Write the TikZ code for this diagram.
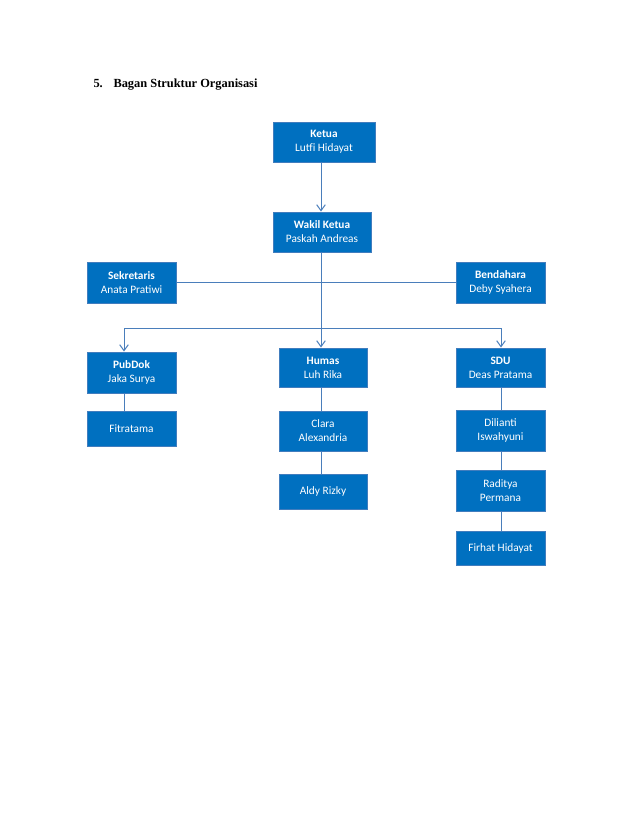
\documentclass[tikz,border=0pt]{standalone}
\usepackage{fontspec}
\setmainfont{Carlito}
\newfontfamily\titlefont{Liberation Serif}
\usetikzlibrary{arrows.meta}

\definecolor{boxfill}{RGB}{0,112,192}
\definecolor{boxedge}{RGB}{65,125,190}
\definecolor{linkblue}{RGB}{74,126,187}

\tikzset{every picture/.style={line width=0.75pt}}
\tikzset{
  orgbox/.style={draw=boxedge, fill=boxfill, text=white, align=center, inner sep=0.75pt,
    font=\fontsize{8.5}{10.5}\selectfont},
  link/.style={draw=linkblue, line width=0.75pt},
  linkarrow/.style={link, -{Straight Barb[length=4.5pt,width=6.5pt]}}
}

\begin{document}
\begin{tikzpicture}[x=0.75pt,y=0.75pt,yscale=-1,xscale=1]
%set diagram page, 638 x 826
\useasboundingbox (0,0) rectangle (638,826);
\fill[white] (0,0) rectangle (638,826);

% Text Node
\node (titlenum) [anchor=base west, inner sep=0pt, font=\titlefont\bfseries\fontsize{9.3}{11}\selectfont] at (93,87) {5.};
% Text Node
\node (title) [anchor=base west, inner sep=0pt, font=\titlefont\bfseries\fontsize{9.3}{11}\selectfont] at (113,87) {Bagan Struktur Organisasi};

%Shape: Rectangle
\node (ketua) [orgbox, minimum width=76.5pt, minimum height=30pt] at (324,142) {\textbf{Ketua}\\Lutfi Hidayat};
%Shape: Rectangle
\node (wakil) [orgbox, minimum width=73.5pt, minimum height=30pt] at (322,232) {\textbf{Wakil Ketua}\\Paskah Andreas};
%Shape: Rectangle
\node (sekretaris) [orgbox, minimum width=66.75pt, minimum height=30.75pt] at (131.5,282.5) {\textbf{Sekretaris}\\Anata Pratiwi};
%Shape: Rectangle
\node (bendahara) [orgbox, minimum width=66.75pt, minimum height=30.75pt] at (500.5,282.5) {\textbf{Bendahara}\\Deby Syahera};

%Shape: Rectangle
\node (pubdok) [orgbox, minimum width=66.75pt, minimum height=30.75pt] at (131.5,372.5) {\textbf{PubDok}\\Jaka Surya};
%Shape: Rectangle
\node (fitratama) [orgbox, minimum width=66.75pt, minimum height=26.25pt] at (131.5,428.5) {Fitratama};

%Shape: Rectangle
\node (humas) [orgbox, minimum width=66pt, minimum height=29.25pt] at (323,367.5) {\textbf{Humas}\\Luh Rika};
%Shape: Rectangle
\node (clara) [orgbox, minimum width=66pt, minimum height=30pt] at (323,431) {Clara\\Alexandria};
%Shape: Rectangle
\node (aldy) [orgbox, minimum width=66pt, minimum height=26.25pt] at (323,491.5) {Aldy Rizky};

%Shape: Rectangle
\node (sdu) [orgbox, minimum width=66.75pt, minimum height=29.25pt] at (500.5,367.5) {\textbf{SDU}\\Deas Pratama};
%Shape: Rectangle
\node (dilianti) [orgbox, minimum width=66.75pt, minimum height=30.75pt] at (500.5,430.5) {Dilianti\\Iswahyuni};
%Shape: Rectangle
\node (raditya) [orgbox, minimum width=66.75pt, minimum height=30.75pt] at (500.5,490.5) {Raditya\\Permana};
%Shape: Rectangle
\node (firhat) [orgbox, minimum width=66.75pt, minimum height=25.5pt] at (500.5,548) {Firhat Hidayat};

% branch points
\coordinate (spine) at (321,328);
\coordinate (branchleft) at (124,328);
\coordinate (branchright) at (501,328);

%Straight Lines
\draw [linkarrow] (ketua.south -| spine) -- (wakil.north -| spine);
%Straight Lines
\draw [link] (sekretaris.east) -- (bendahara.west);
%Straight Lines
\draw [linkarrow] (wakil.south -| spine) -- (humas.north -| spine);
%Straight Lines
\draw [link] (branchleft) -- (branchright);
%Straight Lines
\draw [linkarrow] (branchleft) -- (pubdok.north -| branchleft);
%Straight Lines
\draw [linkarrow] (branchright) -- (sdu.north -| branchright);

%Straight Lines
\draw [link] (pubdok.south -| branchleft) -- (fitratama.north -| branchleft);
%Straight Lines
\draw [link] (humas.south -| spine) -- (clara.north -| spine);
\draw [link] (clara.south -| spine) -- (aldy.north -| spine);
%Straight Lines
\draw [link] (sdu.south -| branchright) -- (dilianti.north -| branchright);
\draw [link] (dilianti.south -| branchright) -- (raditya.north -| branchright);
\draw [link] (raditya.south -| branchright) -- (firhat.north -| branchright);
\end{tikzpicture}
\end{document}
